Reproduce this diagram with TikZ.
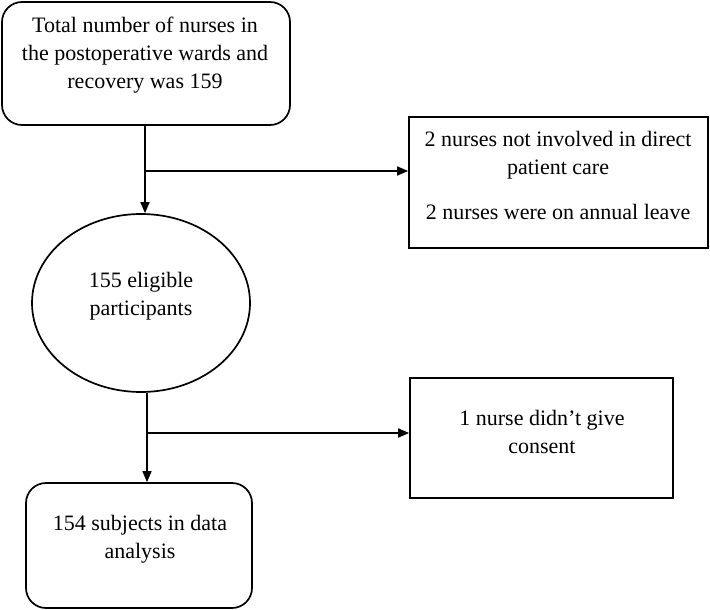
\documentclass[tikz,border=0pt]{standalone}
\usepackage{fontspec}
\setmainfont{Liberation Serif}
\usetikzlibrary{arrows.meta,shapes.geometric}
\begin{document}
\begin{tikzpicture}[x=1pt,y=-1pt,
  shape line/.style={draw=black,line width=1.7pt},
  rbox/.style={shape line,rectangle,rounded corners=20pt,inner sep=0pt},
  sbox/.style={shape line,rectangle,inner sep=0pt},
  oval/.style={shape line,ellipse,inner sep=0pt},
  txt/.style={align=center,inner sep=0pt,font=\fontsize{22}{28}\selectfont},
  conn/.style={line width=1.6pt,-{Triangle[length=11pt,width=9pt]}},
  plain/.style={line width=1.6pt}]
\useasboundingbox (0,0) rectangle (710,610);
% boxes
\node[rbox,minimum width=288pt,minimum height=123pt] (b1) at (146,63.5) {};
\node[txt] (t1) at (145,55) {Total number of nurses in\\the postoperative wards and\\recovery was 159};
\node[sbox,minimum width=299pt,minimum height=131pt] (b2) at (558.5,182.5) {};
\node[txt] (t2a) at (558,155) {2 nurses not involved in direct\\patient care};
\node[txt] (t2b) at (558,212) {2 nurses were on annual leave};
\node[oval,minimum width=218pt,minimum height=178pt] (e1) at (141,303) {};
\node[txt] (t3) at (141,296) {155 eligible\\participants};
\node[sbox,minimum width=263pt,minimum height=120pt] (b4) at (541.5,438) {};
\node[txt] (t4) at (542,432) {1 nurse didn’t give\\consent};
\node[rbox,minimum width=226pt,minimum height=125pt] (b3) at (139,545.5) {};
\node[txt] (t5) at (140,539) {154 subjects in data\\analysis};
% connectors
\coordinate (j1) at (145,171);
\coordinate (j2) at (147,433);
\draw[conn] (b1.south -| j1) -- (e1.north -| j1);
\draw[conn] (j1) -- (j1 -| b2.west);
\draw[plain] (e1.south -| j2) -- (j2);
\draw[conn] (j2) -- (b3.north -| j2);
\draw[conn] (j2) -- (j2 -| b4.west);
\end{tikzpicture}
\end{document}
